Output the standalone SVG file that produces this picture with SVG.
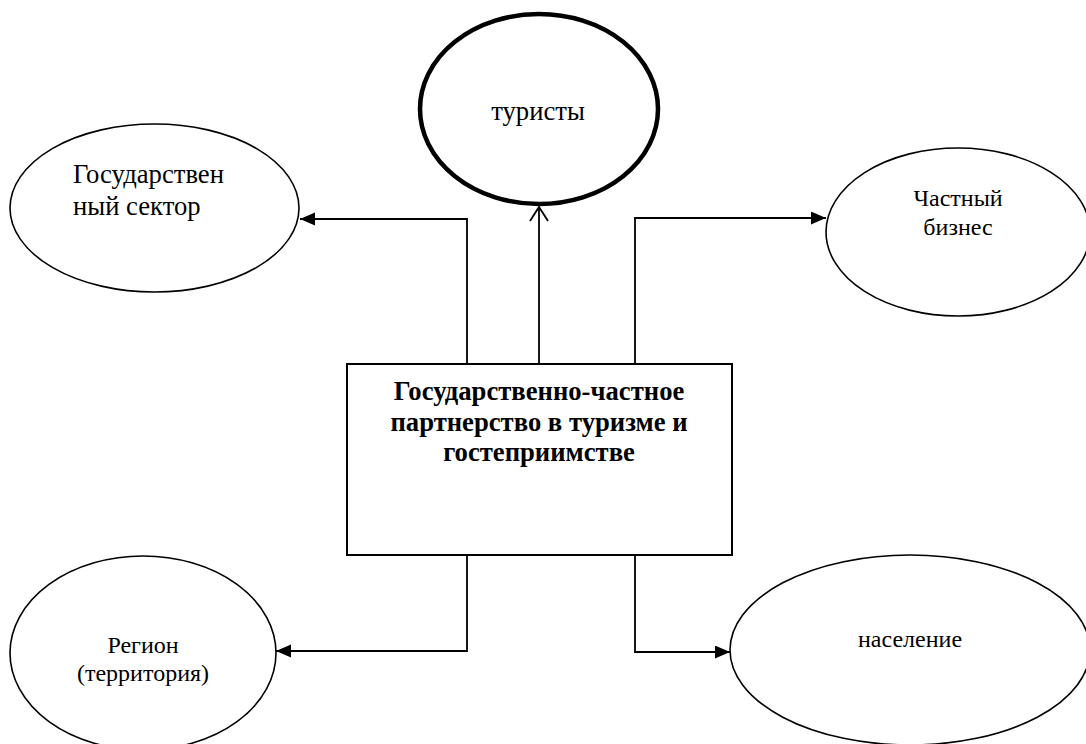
<svg xmlns="http://www.w3.org/2000/svg" width="1086" height="744" viewBox="0 0 1086 744">
<style>
  .node { fill: #ffffff; stroke: #000000; stroke-width: 1.6; }
  .thick { stroke-width: 4.5; }
  .box { fill: #ffffff; stroke: #000000; stroke-width: 2; }
  .t { font-family: "Liberation Serif", "Times New Roman", serif; fill: #000000; }
  .r24 { font-size: 24px; }
  .r27 { font-size: 26.67px; }
  .b27 { font-size: 26.67px; font-weight: bold; }
  .conn { fill: none; stroke: #000000; stroke-width: 1.8; }
</style>
<defs>
  <marker id="tri" markerUnits="userSpaceOnUse" markerWidth="16" markerHeight="14" refX="15" refY="6.5" orient="auto">
    <path d="M0,0 L15,6.5 L0,13 z" fill="#000000"/>
  </marker>
  <marker id="open" markerUnits="userSpaceOnUse" markerWidth="18" markerHeight="22" refX="15" refY="10" orient="auto">
    <path d="M1,1 L15,10 L1,19" fill="none" stroke="#000000" stroke-width="1.8"/>
  </marker>
</defs>
<rect width="1086" height="744" fill="#ffffff"/>

<g id="connectors">
  <path class="conn" d="M539,364 L539,207" marker-end="url(#open)"/>
  <path class="conn" d="M467,364 L467,219 L300,219" marker-end="url(#tri)"/>
  <path class="conn" d="M635,364 L635,218 L826,218" marker-end="url(#tri)"/>
  <path class="conn" d="M467,555 L467,651 L276,651" marker-end="url(#tri)"/>
  <path class="conn" d="M635,555 L635,652 L730,652" marker-end="url(#tri)"/>
</g>

<g id="node-tourists">
  <ellipse class="node thick" cx="539" cy="109" rx="119" ry="95"/>
  <text class="t r27" x="538" y="120" text-anchor="middle">туристы</text>
</g>

<g id="node-gov">
  <ellipse class="node" cx="154.5" cy="208" rx="144.5" ry="84"/>
  <text class="t r27" x="73" y="183">Государствен</text>
  <text class="t r27" x="73" y="215">ный сектор</text>
</g>

<g id="node-business">
  <ellipse class="node" cx="958" cy="232" rx="132" ry="84"/>
  <text class="t r24" x="958" y="206" text-anchor="middle">Частный</text>
  <text class="t r24" x="958" y="235" text-anchor="middle">бизнес</text>
</g>

<g id="node-center">
  <rect class="box" x="347" y="364" width="385" height="191"/>
  <text class="t b27" x="539" y="400" text-anchor="middle">Государственно-частное</text>
  <text class="t b27" x="539" y="431" text-anchor="middle">партнерство в туризме и</text>
  <text class="t b27" x="539" y="461" text-anchor="middle">гостеприимстве</text>
</g>

<g id="node-region">
  <ellipse class="node" cx="143" cy="653" rx="133" ry="97"/>
  <text class="t r24" x="143" y="653" text-anchor="middle">Регион</text>
  <text class="t r24" x="143" y="681" text-anchor="middle">(территория)</text>
</g>

<g id="node-population">
  <ellipse class="node" cx="910" cy="650" rx="180" ry="95"/>
  <text class="t r24" x="910" y="647" text-anchor="middle">население</text>
</g>
</svg>
